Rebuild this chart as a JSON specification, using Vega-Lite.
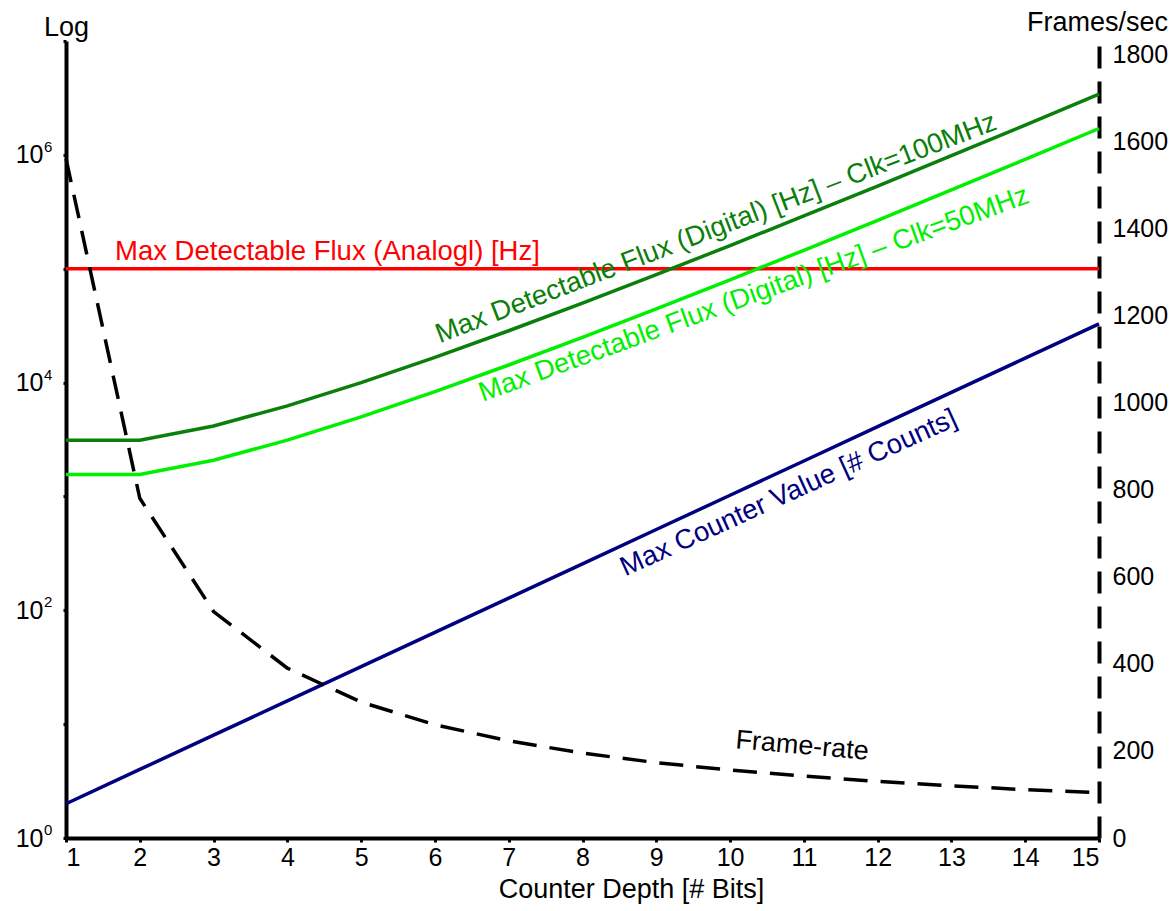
{
  "$schema": "https://vega.github.io/schema/vega-lite/v6.json",
  "autosize": "none",
  "padding": {"left": 66, "top": 41, "right": 74, "bottom": 73},
  "width": 1033,
  "height": 797,
  "config": {
    "view": {"stroke": null},
    "font": "Liberation Sans",
    "axis": {"grid": false, "domainColor": "black", "domainWidth": 4, "tickColor": "black", "labelColor": "black", "titleColor": "black", "labelFont": "Liberation Sans", "titleFont": "Liberation Sans", "titleFontWeight": "normal"}
  },
  "datasets": {
    "curves": [
      {"bits": 1, "series": "counter", "value": 2},
      {"bits": 2, "series": "counter", "value": 4},
      {"bits": 3, "series": "counter", "value": 8},
      {"bits": 4, "series": "counter", "value": 16},
      {"bits": 5, "series": "counter", "value": 32},
      {"bits": 6, "series": "counter", "value": 64},
      {"bits": 7, "series": "counter", "value": 128},
      {"bits": 8, "series": "counter", "value": 256},
      {"bits": 9, "series": "counter", "value": 512},
      {"bits": 10, "series": "counter", "value": 1024},
      {"bits": 11, "series": "counter", "value": 2048},
      {"bits": 12, "series": "counter", "value": 4096},
      {"bits": 13, "series": "counter", "value": 8192},
      {"bits": 14, "series": "counter", "value": 16384},
      {"bits": 15, "series": "counter", "value": 32768},
      {"bits": 1, "series": "analog", "value": 100000},
      {"bits": 2, "series": "analog", "value": 100000},
      {"bits": 3, "series": "analog", "value": 100000},
      {"bits": 4, "series": "analog", "value": 100000},
      {"bits": 5, "series": "analog", "value": 100000},
      {"bits": 6, "series": "analog", "value": 100000},
      {"bits": 7, "series": "analog", "value": 100000},
      {"bits": 8, "series": "analog", "value": 100000},
      {"bits": 9, "series": "analog", "value": 100000},
      {"bits": 10, "series": "analog", "value": 100000},
      {"bits": 11, "series": "analog", "value": 100000},
      {"bits": 12, "series": "analog", "value": 100000},
      {"bits": 13, "series": "analog", "value": 100000},
      {"bits": 14, "series": "analog", "value": 100000},
      {"bits": 15, "series": "analog", "value": 100000},
      {"bits": 1, "series": "clk100", "value": 3120},
      {"bits": 2, "series": "clk100", "value": 3120},
      {"bits": 3, "series": "clk100", "value": 4160},
      {"bits": 4, "series": "clk100", "value": 6240},
      {"bits": 5, "series": "clk100", "value": 9984},
      {"bits": 6, "series": "clk100", "value": 16640},
      {"bits": 7, "series": "clk100", "value": 28526},
      {"bits": 8, "series": "clk100", "value": 49920},
      {"bits": 9, "series": "clk100", "value": 88747},
      {"bits": 10, "series": "clk100", "value": 159744},
      {"bits": 11, "series": "clk100", "value": 290444},
      {"bits": 12, "series": "clk100", "value": 532480},
      {"bits": 13, "series": "clk100", "value": 983040},
      {"bits": 14, "series": "clk100", "value": 1825646},
      {"bits": 15, "series": "clk100", "value": 3407872},
      {"bits": 1, "series": "clk50", "value": 1560},
      {"bits": 2, "series": "clk50", "value": 1560},
      {"bits": 3, "series": "clk50", "value": 2080},
      {"bits": 4, "series": "clk50", "value": 3120},
      {"bits": 5, "series": "clk50", "value": 4992},
      {"bits": 6, "series": "clk50", "value": 8320},
      {"bits": 7, "series": "clk50", "value": 14263},
      {"bits": 8, "series": "clk50", "value": 24960},
      {"bits": 9, "series": "clk50", "value": 44373},
      {"bits": 10, "series": "clk50", "value": 79872},
      {"bits": 11, "series": "clk50", "value": 145222},
      {"bits": 12, "series": "clk50", "value": 266240},
      {"bits": 13, "series": "clk50", "value": 491520},
      {"bits": 14, "series": "clk50", "value": 912823},
      {"bits": 15, "series": "clk50", "value": 1703936}
    ],
    "framerate": [
      {"bits": 1, "fps": 1560},
      {"bits": 2, "fps": 780},
      {"bits": 3, "fps": 520},
      {"bits": 4, "fps": 390},
      {"bits": 5, "fps": 312},
      {"bits": 6, "fps": 260},
      {"bits": 7, "fps": 223},
      {"bits": 8, "fps": 195},
      {"bits": 9, "fps": 173},
      {"bits": 10, "fps": 156},
      {"bits": 11, "fps": 142},
      {"bits": 12, "fps": 130},
      {"bits": 13, "fps": 120},
      {"bits": 14, "fps": 111},
      {"bits": 15, "fps": 104}
    ],
    "exponents": [
      {"value": 1, "exp": "0"},
      {"value": 100, "exp": "2"},
      {"value": 10000, "exp": "4"},
      {"value": 1000000, "exp": "6"}
    ],
    "one": [{}]
  },
  "layer": [
    {
      "layer": [
        {
          "data": {"name": "curves"},
          "mark": {"type": "line", "strokeWidth": 3.5},
          "encoding": {
            "x": {"field": "bits", "type": "quantitative", "scale": {"domain": [1, 15], "nice": false, "zero": false},
              "axis": {"values": [1,2,3,4,5,6,7,8,9,10,11,12,13,14,15], "format": "d", "title": "Counter Depth [# Bits]", "labelFontSize": 25, "titleFontSize": 27, "tickSize": 4, "tickWidth": 3, "labelPadding": 3, "titleX": 565, "titleY": 59, "titleAlign": "center", "titleBaseline": "alphabetic", "titleAnchor": null}},
            "y": {"field": "value", "type": "quantitative", "scale": {"type": "log", "domain": [1, 10000000], "nice": false},
              "axis": {"values": [1,10,100,1000,10000,100000,1000000,10000000], "labelExpr": "datum.value == 1 || datum.value == 100 || datum.value == 10000 || datum.value == 1000000 ? '10' : ''", "title": "Log", "titleAngle": 0, "titleX": 0, "titleY": -6, "titleAlign": "center", "titleBaseline": "alphabetic", "titleFontSize": 27, "labelFontSize": 25, "tickSize": 3, "tickWidth": 3, "labelPadding": 20}},
            "color": {"field": "series", "type": "nominal", "scale": {"domain": ["counter", "analog", "clk100", "clk50"], "range": ["#000080", "#ff0000", "#0a800a", "#00f000"]}, "legend": null},
            "detail": {"field": "series"}
          }
        },
        {
          "data": {"name": "exponents"},
          "mark": {"type": "text", "color": "black", "fontSize": 15, "align": "left", "baseline": "alphabetic", "dx": -22, "dy": -3},
          "encoding": {"x": {"datum": 1, "type": "quantitative"}, "y": {"field": "value", "type": "quantitative"}, "text": {"field": "exp"}}
        },
        {
          "data": {"name": "one"},
          "mark": {"type": "text", "text": "Max Detectable Flux (Analogl) [Hz]", "color": "#ff0000", "fontSize": 27.5, "align": "left", "baseline": "alphabetic", "dy": -9},
          "encoding": {"x": {"datum": 1.664, "type": "quantitative"}, "y": {"datum": 100000, "type": "quantitative"}}
        },
        {
          "data": {"name": "one"},
          "mark": {"type": "text", "text": "Max Detectable Flux (Digital) [Hz] – Clk=100MHz", "color": "#0a800a", "fontSize": 27.5, "align": "center", "baseline": "alphabetic", "angle": -21},
          "encoding": {"x": {"datum": 9.85, "type": "quantitative"}, "y": {"datum": 194000, "type": "quantitative"}}
        },
        {
          "data": {"name": "one"},
          "mark": {"type": "text", "text": "Max Detectable Flux (Digital) [Hz] – Clk=50MHz", "color": "#00f000", "fontSize": 27.5, "align": "center", "baseline": "alphabetic", "angle": -20},
          "encoding": {"x": {"datum": 10.36, "type": "quantitative"}, "y": {"datum": 51000, "type": "quantitative"}}
        },
        {
          "data": {"name": "one"},
          "mark": {"type": "text", "text": "Max Counter Value [# Counts]", "color": "#000080", "fontSize": 27.5, "align": "center", "baseline": "alphabetic", "angle": -24.5},
          "encoding": {"x": {"datum": 10.84, "type": "quantitative"}, "y": {"datum": 920, "type": "quantitative"}}
        }
      ]
    },
    {
      "layer": [
        {
          "data": {"name": "framerate"},
          "mark": {"type": "line", "strokeWidth": 3.5, "color": "black", "strokeDash": [24, 13]},
          "encoding": {
            "x": {"field": "bits", "type": "quantitative", "scale": {"domain": [1, 15], "nice": false, "zero": false}},
            "y": {"field": "fps", "type": "quantitative", "scale": {"domain": [0, 1830], "nice": false},
              "axis": {"orient": "right", "values": [0,200,400,600,800,1000,1200,1400,1600,1800], "format": "d", "title": "Frames/sec", "titleAngle": 0, "titleX": -2, "titleY": -11, "titleAlign": "center", "titleBaseline": "alphabetic", "titleFontSize": 27, "labelFontSize": 25, "ticks": false, "labelPadding": 13, "domainDash": [22, 13]}}
          }
        },
        {
          "data": {"name": "one"},
          "mark": {"type": "text", "text": "Frame-rate", "color": "black", "fontSize": 27, "align": "center", "baseline": "alphabetic", "angle": 5},
          "encoding": {"x": {"datum": 10.967, "type": "quantitative"}, "y": {"datum": 193, "type": "quantitative"}}
        }
      ]
    }
  ],
  "resolve": {"scale": {"y": "independent"}, "axis": {"y": "independent"}}
}
